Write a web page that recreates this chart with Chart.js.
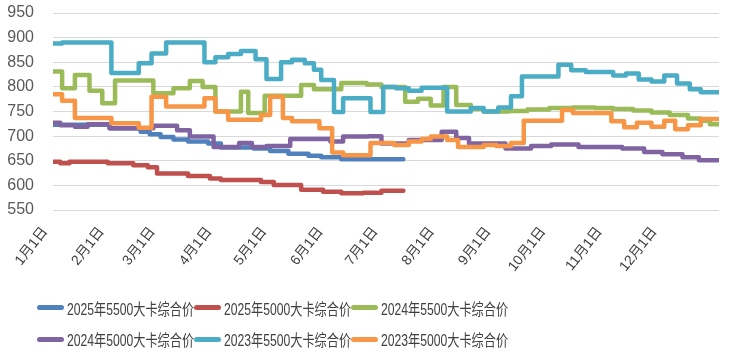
<!DOCTYPE html>
<html>
<head>
<meta charset="utf-8">
<script src="https://cdn.jsdelivr.net/npm/chart.js@4.4.1/dist/chart.umd.min.js"></script>
<style>
	body { margin: 0; background: #fff; }
	.wrap { position: relative; width: 730px; height: 352px; }
	.labels {
		position: absolute;
		left: 37px;
		top: 292px;
		width: 480px;
		display: flex;
		flex-wrap: wrap;
		font-family: "Liberation Sans", "Noto Sans CJK SC", sans-serif;
		font-size: 16px;
		color: #404040;
	}
	.label-container {
		width: 157px;
		height: 31.5px;
		display: flex;
		align-items: center;
		white-space: nowrap;
	}
	.bullet-point {
		width: 27px;
		height: 5px;
		border-radius: 3px;
		margin-right: 3px;
		flex: none;
	}
	.label-text {
		display: inline-block;
		transform: scaleX(0.76);
		transform-origin: left center;
	}
</style>
</head>
<body>
<div class="wrap">
	<canvas id="chart" width="730" height="352"></canvas>
	<div class="labels"></div>
</div>
<script>
const seriesNames = [
	'2025年5500大卡综合价',
	'2025年5000大卡综合价',
	'2024年5500大卡综合价',
	'2024年5000大卡综合价',
	'2023年5500大卡综合价',
	'2023年5000大卡综合价',
];
const seriesColors = ['#4F81BD', '#C0504D', '#9BBB59', '#8064A2', '#4BACC6', '#F79646'];

// day of year where each month starts, and its label
const monthStarts = [0, 31, 59, 90, 120, 151, 181, 212, 243, 273, 304, 334];
const monthLabels = ['1月1日', '2月1日', '3月1日', '4月1日', '5月1日', '6月1日',
	'7月1日', '8月1日', '9月1日', '10月1日', '11月1日', '12月1日'];

// price changes: [day of year, price], held until the next change
const p2025_5500 = [[0, 723], [31, 716], [48, 709], [53, 704], [59, 698], [66, 693], [74, 689],
	[85, 685], [92, 677], [110, 675], [119, 670], [129, 664], [140, 660], [147, 657], [158, 653], [192, 653]];
const p2025_5000 = [[0, 648], [4, 645], [9, 648], [30, 645], [44, 641], [52, 637], [57, 624], [74, 619],
	[86, 614], [92, 611], [114, 607], [121, 601], [136, 591], [148, 587], [158, 584], [170, 585], [180, 589], [192, 589]];
const p2024_5500 = [[0, 831], [5, 797], [12, 824], [20, 792], [27, 767], [34, 813], [55, 787], [66, 797],
	[75, 812], [82, 800], [89, 750], [103, 790], [107, 747], [116, 782], [136, 804], [143, 795], [158, 808],
	[172, 805], [180, 800], [193, 770], [200, 776], [207, 762], [214, 800], [221, 763], [229, 755], [236, 750],
	[250, 751], [260, 754], [272, 757], [285, 758], [297, 757], [307, 755], [318, 752], [328, 748], [338, 743],
	[348, 736], [355, 731], [360, 724], [365, 724]];
const p2024_5000 = [[0, 727], [4, 722], [12, 719], [19, 724], [31, 716], [55, 721], [68, 712], [75, 699],
	[88, 678], [102, 686], [109, 678], [117, 680], [130, 694], [152, 689], [159, 699], [173, 700], [180, 685],
	[195, 692], [213, 709], [221, 696], [228, 685], [248, 675], [262, 680], [273, 683], [288, 678], [312, 675],
	[324, 668], [334, 663], [345, 657], [354, 651], [365, 651]];
const p2023_5500 = [[0, 888], [5, 890], [32, 828], [47, 848], [54, 868], [62, 890], [83, 850], [89, 860],
	[96, 867], [103, 873], [111, 856], [117, 816], [125, 850], [131, 855], [138, 848], [143, 835], [147, 814],
	[154, 749], [159, 777], [174, 749], [181, 800], [188, 797], [195, 792], [202, 798], [216, 750], [229, 757],
	[236, 750], [244, 758], [251, 781], [257, 821], [277, 845], [284, 834], [292, 830], [307, 823], [314, 827],
	[321, 815], [328, 811], [335, 823], [342, 807], [349, 795], [355, 789], [365, 789]];
const p2023_5000 = [[0, 785], [5, 772], [12, 737], [32, 726], [47, 717], [54, 780], [62, 760], [83, 777],
	[89, 750], [96, 733], [114, 743], [119, 780], [126, 737], [131, 730], [146, 716], [153, 667], [159, 661],
	[174, 686], [187, 682], [195, 689], [202, 694], [207, 699], [216, 692], [222, 678], [236, 682], [243, 680],
	[251, 686], [258, 731], [279, 753], [285, 747], [306, 730], [313, 718], [320, 727], [328, 719], [335, 731],
	[341, 714], [348, 722], [355, 735], [365, 735]];

const seriesData = [p2025_5500, p2025_5000, p2024_5500, p2024_5000, p2023_5500, p2023_5000];

const labelFont = '"Liberation Sans", "Noto Sans CJK SC", sans-serif';

const ctx = document.getElementById('chart');

new Chart(ctx, {
	type: 'line',
	data: {
		datasets: seriesData.map((points, i) => ({
			label: seriesNames[i],
			data: points.map(([x, y]) => ({ x, y })),
			borderColor: seriesColors[i],
			backgroundColor: seriesColors[i],
			borderWidth: 4.5,
			borderJoinStyle: 'round',
			borderCapStyle: 'round',
			pointRadius: 0,
			stepped: true,
			order: seriesData.length - 1 - i,
		})),
	},
	options: {
		responsive: false,
		animation: false,
		layout: { padding: { top: 13, right: 11, left: 0, bottom: 0 } },
		plugins: {
			legend: { display: false },
			tooltip: { enabled: false },
		},
		scales: {
			x: {
				type: 'linear',
				min: 0,
				max: 365,
				grid: { display: false },
				border: { display: false },
				afterBuildTicks: (scale) => {
					scale.ticks = monthStarts.map(v => ({ value: v }));
				},
				afterFit: (scale) => {
					scale.height = 142;
					scale.paddingTop = 0;
				},
				ticks: {
					autoSkip: false,
					minRotation: 52,
					maxRotation: 52,
					padding: 6,
					labelOffset: -8,
					color: '#404040',
					font: { family: labelFont, size: 14 },
					callback: (value) => monthLabels[monthStarts.indexOf(value)],
				},
			},
			y: {
				min: 550,
				max: 950,
				grid: { color: '#d9d9d9', drawTicks: false },
				border: { display: false },
				afterFit: (scale) => {
					scale.width = 53;
					scale.paddingTop = 0;
					scale.paddingBottom = 0;
				},
				ticks: {
					stepSize: 50,
					autoSkip: false,
					padding: 19,
					color: '#595959',
					font: { family: labelFont, size: 16 },
				},
			},
		},
	},
});

const labelsContainer = document.querySelector('.labels');

seriesNames.forEach((name, i) => {
	const labelElement = document.createElement('div');
	labelElement.setAttribute('class', 'label-container');

	const bulletPoint = document.createElement('span');
	bulletPoint.setAttribute('class', 'bullet-point');
	bulletPoint.style.backgroundColor = seriesColors[i];

	const label = document.createElement('span');
	label.setAttribute('class', 'label-text');
	label.textContent = name;

	labelElement.appendChild(bulletPoint);
	labelElement.appendChild(label);
	labelsContainer.appendChild(labelElement);
});
</script>
</body>
</html>
